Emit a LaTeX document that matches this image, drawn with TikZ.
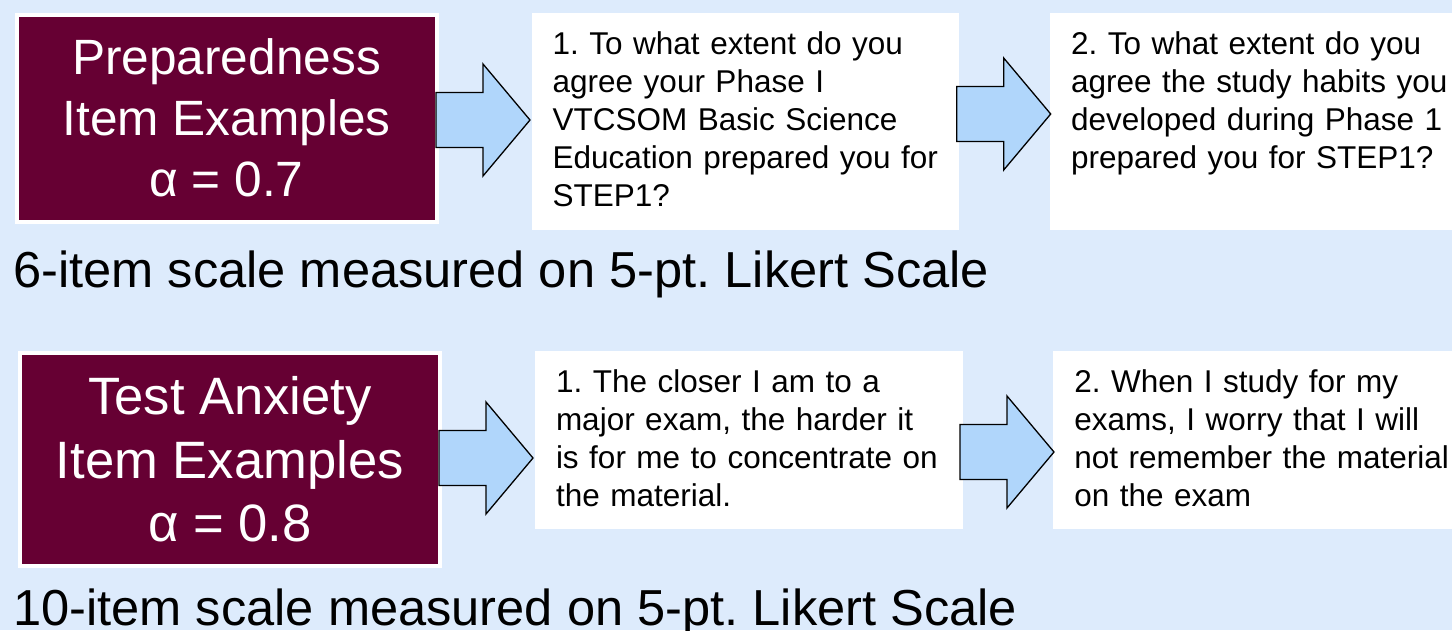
\documentclass[tikz,border=0pt]{standalone}
\usepackage{fontspec}
\setmainfont{Liberation Sans}
\usetikzlibrary{calc}
\definecolor{bg}{RGB}{221,235,252}
\definecolor{maroon}{RGB}{102,0,51}
\definecolor{arrowblue}{RGB}{176,214,251}
\tikzset{
  mbox/.style={fill=maroon, draw=white, line width=4pt, inner sep=0pt, text=white, align=center},
  wbox/.style={fill=white, inner sep=0pt},
  qtext/.style={anchor=base west, inner sep=0pt, text width=420pt, align=left,
    font=\fontsize{31.5}{37.8}\selectfont},
  caption/.style={anchor=base west, inner sep=0pt, font=\fontsize{50.6}{60}\selectfont},
  barrow/.pic={\draw[fill=arrowblue, line width=1.3pt, line join=miter]
    (0,-27.5) -- (47,-27.5) -- (47,-56) -- (94,0) -- (47,56) -- (47,27.5) -- (0,27.5) -- cycle;}
}
\begin{document}
\frenchspacing
\begin{tikzpicture}[x=1pt,y=-1pt]
\useasboundingbox (0,0) rectangle (1452,630);
\fill[bg] (0,0) rectangle (1452,630);

% maroon title boxes
\node[mbox, minimum width=420pt, minimum height=207pt,
  font=\fontsize{49.6}{61}\selectfont] (m1) at (226.5,118.2)
  {Preparedness\\Item Examples\\α = 0.7};
\node[mbox, minimum width=419.8pt, minimum height=213.2pt,
  font=\fontsize{52.6}{63.5}\selectfont] (m2) at (229.9,459.3)
  {Test Anxiety\\Item Examples\\α = 0.8};

% white question boxes
\node[wbox, minimum width=427.6pt, minimum height=217.3pt] (w1) at (745.5,121.35) {};
\node[wbox, minimum width=402pt, minimum height=217.3pt] (w2) at (1251,121.35) {};
\node[wbox, minimum width=427.7pt, minimum height=178pt] (w3) at (748.85,439.7) {};
\node[wbox, minimum width=398.7pt, minimum height=178.6pt] (w4) at (1252.65,440) {};

\node[qtext] (q1) at ($(w1.north west)+(21,42.3)$)
  {1. To what extent do you\\agree your Phase I\\VTCSOM Basic Science\\Education prepared you for\\STEP1?};
\node[qtext] (q2) at ($(w2.north west)+(21,42.3)$)
  {2. To what extent do you\\agree the study habits you\\developed during Phase 1\\prepared you for STEP1?};
\node[qtext] (q3) at ($(w3.north west)+(21,42.3)$)
  {1. The closer I am to a\\major exam, the harder it\\is for me to concentrate on\\the material.};
\node[qtext] (q4) at ($(w4.north west)+(21,42.3)$)
  {2. When I study for my\\exams, I worry that I will\\not remember the material\\on the exam};

% block arrows
\pic at (436,120) {barrow};
\pic at (956.7,114) {barrow};
\pic at (439,458) {barrow};
\pic at (960,452) {barrow};

% captions
\node[caption] (c1) at (13,287) {6-item scale measured on 5-pt. Likert Scale};
\node[caption] (c2) at (13,625) {10-item scale measured on 5-pt. Likert Scale};
\end{tikzpicture}
\end{document}
